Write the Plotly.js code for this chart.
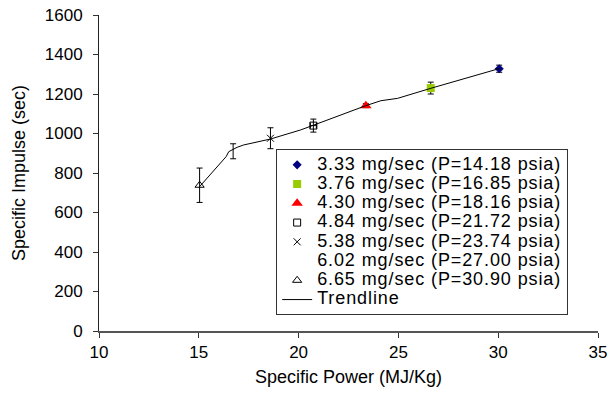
<!DOCTYPE html>
<html>
<head>
<meta charset="utf-8">
<script src="https://cdn.plot.ly/plotly-3.0.1.min.js"></script>
<style>html,body{margin:0;padding:0;background:#fff;}#chart{width:608px;height:397px;}</style>
</head>
<body>
<div id="chart"></div>
<script>
// Series names (legend)
const seriesNames = [
  "3.33 mg/sec (P=14.18 psia)",
  "3.76 mg/sec (P=16.85 psia)",
  "4.30 mg/sec (P=18.16 psia)",
  "4.84 mg/sec (P=21.72 psia)",
  "5.38 mg/sec (P=23.74 psia)",
  "6.02 mg/sec (P=27.00 psia)",
  "6.65 mg/sec (P=30.90 psia)"
];
const trendName = "Trendline";
// Specific power (MJ/Kg) for each series
const powerX = [30.05, 26.62, 23.37, 20.74, 18.59, 16.72, 15.04];
// Specific impulse (sec)
const impulseY = [1328, 1230, 1141, 1040, 976, 910, 738];
// Error (+/-, sec)
const impulseErr = [18, 30, 10, 33, 53, 38, 87];
// Horizontal error (MJ/Kg)
const powerErr = [0, 0, 0, 0.15, 0, 0, 0];

// Trendline
const trendX = [15.04, 16.37, 16.50, 16.92, 17.25, 18.59, 20.10, 20.60, 20.77, 23.37, 24.12, 24.96, 26.63, 30.10];
const trendY = [731, 883, 908, 930, 942, 972, 1018, 1035, 1043, 1141, 1166, 1178, 1229, 1330];

// Axis ticks
const xTicks = [10, 15, 20, 25, 30, 35];
const yTicks = [0, 200, 400, 600, 800, 1000, 1200, 1400, 1600];

const markerStyles = [
  {symbol: "diamond", color: "#000080", size: 7, line: {width: 0}},
  {symbol: "square", color: "#99CC00", size: 8, line: {width: 0}},
  {symbol: "triangle-up", color: "#FF0000", size: 10, line: {width: 0}},
  {symbol: "square-open", color: "#000000", size: 7, line: {width: 1}},
  {symbol: "x-thin-open", color: "#000000", size: 7, line: {width: 1, color: "#000000"}},
  {symbol: "circle", color: "rgba(0,0,0,0)", size: 7, line: {width: 0}},
  {symbol: "triangle-up-open", color: "#000000", size: 8, line: {width: 1}}
];

const legendStyle = "font-size:18px;letter-spacing:0.9px";
const styled = s => '<span style="' + legendStyle + '">' + s + '</span>';

const traces = seriesNames.map((name, i) => ({
  type: "scatter",
  mode: "markers",
  name: styled(name),
  x: [powerX[i]],
  y: [impulseY[i]],
  marker: markerStyles[i],
  error_y: {type: "data", array: [impulseErr[i]], visible: true, color: "#000000", thickness: 1, width: 3},
  error_x: {type: "data", array: [powerErr[i]], visible: powerErr[i] > 0, color: "#000000", thickness: 1, width: 3}
}));

traces.push({
  type: "scatter",
  mode: "lines",
  name: styled(trendName),
  x: trendX,
  y: trendY,
  line: {color: "#000000", width: 1}
});

const font = "Liberation Sans, Arial, sans-serif";

const layout = {
  width: 608,
  height: 397,
  margin: {l: 99, r: 10, t: 15, b: 66, pad: 0},
  paper_bgcolor: "#ffffff",
  plot_bgcolor: "#ffffff",
  font: {family: font, color: "#000000", size: 17},
  showlegend: true,
  legend: {
    x: 0.355, y: 0.05, xanchor: "left", yanchor: "bottom",
    bgcolor: "#ffffff", bordercolor: "#333333", borderwidth: 1,
    font: {family: font, size: 12.5, color: "#000000"},
    tracegroupgap: 0,
    itemwidth: 30
  },
  xaxis: {
    range: [10, 35],
    tickvals: xTicks,
    ticktext: xTicks.map(String),
    showgrid: false, zeroline: false,
    showline: true, linecolor: "#555555", linewidth: 1.5,
    ticks: "outside", ticklen: 5, tickcolor: "#333333",
    tickfont: {size: 17},
    title: {text: "Specific Power (MJ/Kg)", font: {size: 18}, standoff: 9}
  },
  yaxis: {
    range: [0, 1600],
    tickvals: yTicks,
    ticktext: yTicks.map(String),
    showgrid: false, zeroline: false,
    showline: true, linecolor: "#222222", linewidth: 1,
    ticks: "outside", ticklen: 5, tickcolor: "#333333",
    ticklabelstandoff: 7,
    tickfont: {size: 17},
    title: {text: "Specific Impulse (sec)", font: {size: 18}, standoff: 14}
  }
};

Plotly.newPlot("chart", traces, layout, {displayModeBar: false, staticPlot: true});
</script>
</body>
</html>
